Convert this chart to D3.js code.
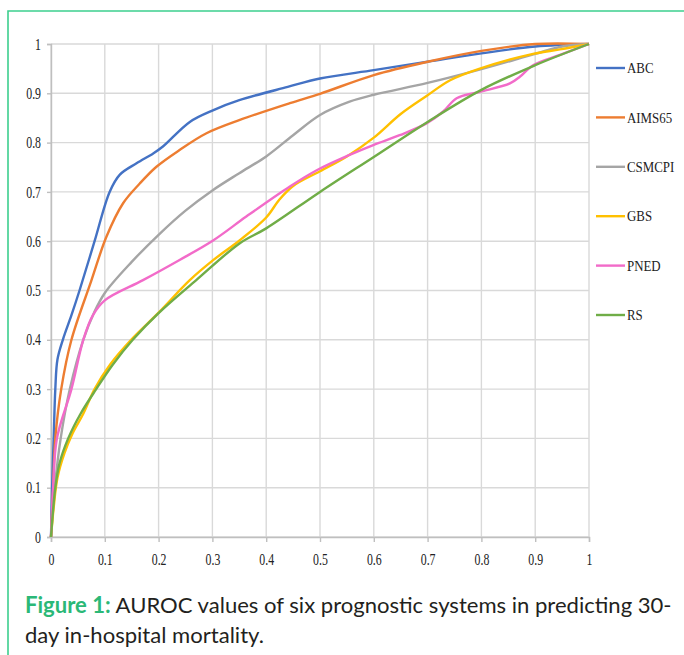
<!DOCTYPE html>
<html>
<head>
<meta charset="utf-8">
<script src="https://cdn.jsdelivr.net/npm/d3@7"></script>
<style>
  html, body { margin: 0; padding: 0; background: #fff; }
  svg { display: block; }
</style>
</head>
<body>
<svg id="chart" width="684" height="655"></svg>
<script>
// series names and colours
const seriesNames = ['ABC', 'AIMS65', 'CSMCPI', 'GBS', 'PNED', 'RS'];
const seriesColors = ['#4472c4', '#ed7d31', '#a5a5a5', '#ffc000', '#f26bc9', '#70ad47'];

// ROC points [1 - specificity, sensitivity]
const abc = [[0,0],[0.002,0.1],[0.005,0.2],[0.008,0.3],[0.012,0.36],[0.022,0.4],[0.038,0.45],[0.053,0.5],[0.081,0.6],[0.109,0.7],[0.128,0.735],[0.159,0.758],[0.19,0.778],[0.208,0.792],[0.258,0.842],[0.302,0.866],[0.35,0.886],[0.44,0.913],[0.5,0.93],[0.6,0.947],[0.7,0.964],[0.8,0.981],[0.9,0.995],[1,1]];
const aims65 = [[0,0],[0.004,0.1],[0.008,0.2],[0.019,0.3],[0.038,0.4],[0.075,0.52],[0.103,0.609],[0.134,0.677],[0.165,0.717],[0.196,0.751],[0.239,0.785],[0.289,0.819],[0.351,0.846],[0.444,0.88],[0.5,0.899],[0.6,0.937],[0.7,0.964],[0.8,0.986],[0.9,1.0],[1,1]];
const csmcpi = [[0,0],[0.007,0.1],[0.018,0.2],[0.035,0.3],[0.06,0.4],[0.08,0.455],[0.1,0.495],[0.15,0.558],[0.2,0.613],[0.25,0.662],[0.3,0.703],[0.35,0.738],[0.4,0.772],[0.45,0.815],[0.5,0.856],[0.555,0.883],[0.6,0.897],[0.7,0.921],[0.8,0.949],[0.9,0.98],[0.95,0.995],[1,1]];
const gbs = [[0,0],[0.005,0.06],[0.012,0.12],[0.025,0.17],[0.04,0.21],[0.06,0.25],[0.081,0.3],[0.11,0.35],[0.149,0.4],[0.2,0.455],[0.258,0.521],[0.302,0.562],[0.351,0.602],[0.4,0.648],[0.425,0.685],[0.45,0.712],[0.5,0.742],[0.55,0.772],[0.6,0.81],[0.65,0.858],[0.7,0.896],[0.741,0.926],[0.797,0.95],[0.896,0.98],[0.946,0.989],[1,1]];
const pned = [[0,0],[0.004,0.1],[0.011,0.2],[0.038,0.3],[0.06,0.4],[0.078,0.45],[0.1,0.48],[0.171,0.521],[0.239,0.562],[0.302,0.602],[0.363,0.65],[0.444,0.711],[0.494,0.744],[0.555,0.775],[0.599,0.795],[0.648,0.815],[0.698,0.839],[0.729,0.863],[0.754,0.89],[0.797,0.903],[0.853,0.92],[0.872,0.934],[0.896,0.957],[0.946,0.978],[1,1]];
const rs = [[0,0],[0.008,0.1],[0.016,0.15],[0.032,0.2],[0.055,0.25],[0.084,0.3],[0.115,0.35],[0.152,0.4],[0.2,0.454],[0.27,0.521],[0.351,0.596],[0.4,0.626],[0.5,0.7],[0.6,0.771],[0.7,0.842],[0.8,0.907],[0.9,0.957],[1,1]];

const tickValues = [0, 0.1, 0.2, 0.3, 0.4, 0.5, 0.6, 0.7, 0.8, 0.9, 1];
const captionBold = 'Figure 1:';
const captionLine1 = ' AUROC values of six prognostic systems in predicting 30-';
const captionLine2 = 'day in-hospital mortality.';

const seriesData = [abc, aims65, csmcpi, gbs, pned, rs];

const svg = d3.select('#chart');
const padLeft = 51, plotRight = 589, padTop = 44, plotBottom = 537;

const x = d3.scaleLinear().domain([0, 1]).range([padLeft, plotRight]);
const y = d3.scaleLinear().domain([0, 1]).range([plotBottom, padTop]);

// green frame of the figure box
svg.append('path')
  .attr('d', 'M8,655 L8,11 L684,11')
  .attr('fill', 'none')
  .attr('stroke', '#3dcf8e')
  .attr('stroke-width', 1.6);

// grid
const grid = svg.append('g').attr('class', 'grid');
grid.selectAll('.vg').data(tickValues)
  .join('line')
  .attr('class', 'vg')
  .attr('x1', d => x(d)).attr('x2', d => x(d))
  .attr('y1', padTop).attr('y2', plotBottom)
  .attr('stroke', '#d9d9d9').attr('stroke-width', 1.4);
grid.selectAll('.hg').data(tickValues)
  .join('line')
  .attr('class', 'hg')
  .attr('x1', padLeft).attr('x2', plotRight)
  .attr('y1', d => y(d)).attr('y2', d => y(d))
  .attr('stroke', '#d9d9d9').attr('stroke-width', 1.4);

const sx = 0.74; // the serif labels in the picture are squeezed sideways
const fmt = d => d === 0 ? '0' : d === 1 ? '1' : d3.format('.1f')(d);

// axes (short outward ticks only)
const yAxis = svg.append('g')
  .attr('transform', `translate(${padLeft},0)`)
  .call(d3.axisLeft(y).tickValues(tickValues).tickFormat(fmt).tickSize(4).tickPadding(11))
  .call(g => g.select('.domain').attr('stroke', '#bfbfbf').attr('stroke-width', 1.4));
yAxis.selectAll('.tick line').attr('stroke', '#bfbfbf').attr('stroke-width', 1.4);
yAxis.selectAll('.tick text')
  .attr('font-family', '"Liberation Serif", "Times New Roman", serif')
  .attr('font-size', 16)
  .attr('fill', '#222')
  .attr('x', -10 / sx)
  .attr('transform', `scale(${sx},1)`);

const xAxis = svg.append('g')
  .attr('transform', `translate(0,${plotBottom})`)
  .call(d3.axisBottom(x).tickValues(tickValues).tickFormat(fmt).tickSize(5).tickPadding(12))
  .call(g => g.select('.domain').attr('stroke', '#bfbfbf').attr('stroke-width', 1.4));
xAxis.selectAll('.tick line').attr('stroke', '#bfbfbf').attr('stroke-width', 1.4);
xAxis.selectAll('.tick text')
  .attr('font-family', '"Liberation Serif", "Times New Roman", serif')
  .attr('font-size', 16)
  .attr('fill', '#222')
  .attr('transform', `scale(${sx},1)`);

// curves, smoothed like the spreadsheet's "smooth line"
const line = d3.line()
  .x(d => x(d[0]))
  .y(d => y(d[1]))
  .curve(d3.curveCatmullRom.alpha(0.5));

svg.append('g').selectAll('.roc').data(seriesData)
  .join('path')
  .attr('class', 'roc')
  .attr('d', line)
  .attr('fill', 'none')
  .attr('stroke', (d, i) => seriesColors[i])
  .attr('stroke-width', 2.4)
  .attr('stroke-linejoin', 'round');

// legend
const ly = d3.scalePoint().domain(seriesNames).range([68, 315]);
const legend = svg.append('g').selectAll('.lg').data(seriesNames)
  .join('g')
  .attr('class', 'lg')
  .attr('transform', d => `translate(596,${ly(d)})`);
legend.append('line')
  .attr('x1', 0).attr('x2', 29)
  .attr('stroke', (d, i) => seriesColors[i])
  .attr('stroke-width', 2.4);
legend.append('text')
  .attr('x', 31 / 0.86)
  .attr('dy', '0.35em')
  .attr('transform', 'scale(0.86,1)')
  .attr('font-family', '"Liberation Serif", "Times New Roman", serif')
  .attr('font-size', 15)
  .attr('fill', '#222')
  .text(d => d);

// caption
const cap = svg.append('g').attr('font-family', 'Lato, "Noto Sans", sans-serif').attr('fill', '#231f20');
const t1 = cap.append('text').attr('x', 25).attr('y', 613).attr('font-size', 21);
t1.append('tspan').attr('font-weight', 'bold').attr('fill', '#2bb877').text(captionBold);
t1.append('tspan').attr('xml:space', 'preserve').text(captionLine1);
const t2 = cap.append('text').attr('x', 25).attr('y', 643).attr('font-size', 21).text(captionLine2);

const w1 = t1.node().getComputedTextLength();
const fs = 21 * 647 / w1;
t1.attr('font-size', fs);
t2.attr('font-size', fs);
</script>
</body>
</html>
